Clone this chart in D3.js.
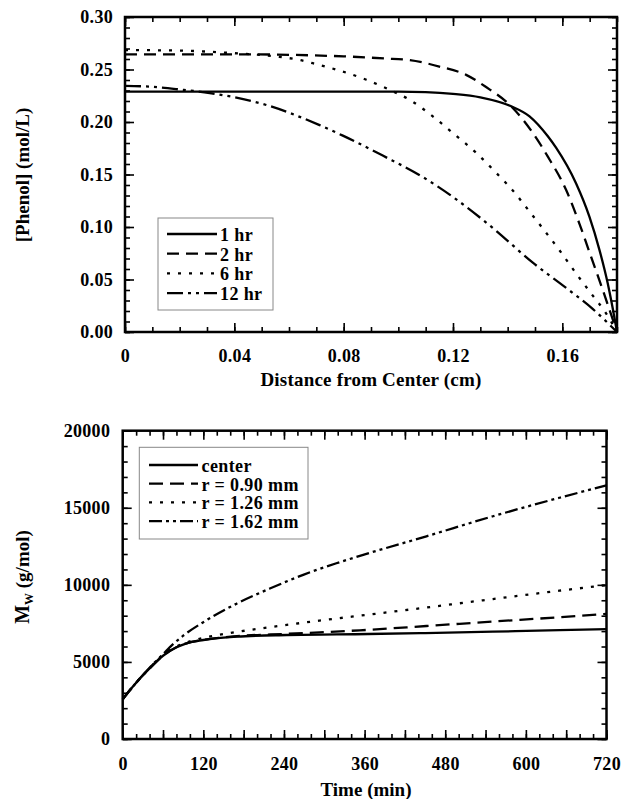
<!DOCTYPE html>
<html><head><meta charset="utf-8">
<script src="https://cdn.jsdelivr.net/npm/d3@7"></script>
<style>
body{margin:0;background:#fff}
text{font-family:"Liberation Serif","Times New Roman",serif;font-weight:bold;fill:#000}
</style>
</head><body>
<svg id="c" width="621" height="799"></svg>
<script>
// ---------- Top panel data: [Phenol] vs distance ----------
const phenolLabels = ["1 hr", "2 hr", "6 hr", "12 hr"];
const hr1X = [0, 0.04, 0.08, 0.10, 0.11, 0.12, 0.13, 0.1413, 0.148, 0.1547, 0.1577, 0.165, 0.1699, 0.1736, 0.1766, 0.179, 0.18];
const hr1Y = [0.229, 0.229, 0.229, 0.229, 0.2285, 0.2268, 0.2235, 0.215, 0.2054, 0.1864, 0.1755, 0.1416, 0.1098, 0.078, 0.0464, 0.0146, 0];
const hr2X = [0, 0.04, 0.08, 0.095, 0.1041, 0.115, 0.1248, 0.1321, 0.1413, 0.1492, 0.1547, 0.1614, 0.1662, 0.1705, 0.1748, 0.1778, 0.18];
const hr2Y = [0.2645, 0.2645, 0.2625, 0.2605, 0.259, 0.2528, 0.2449, 0.2333, 0.2149, 0.1896, 0.167, 0.1352, 0.1035, 0.0717, 0.04, 0.017, 0];
const hr6X = [0, 0.02, 0.04, 0.0555, 0.064, 0.0687, 0.0883, 0.0968, 0.1041, 0.1126, 0.1199, 0.1285, 0.1358, 0.1431, 0.1461, 0.1528, 0.1589, 0.165, 0.1705, 0.176, 0.18];
const hr6Y = [0.2685, 0.268, 0.2655, 0.2623, 0.259, 0.256, 0.2402, 0.2307, 0.2212, 0.2054, 0.1896, 0.1706, 0.1516, 0.131, 0.121, 0.0988, 0.078, 0.0559, 0.0368, 0.0178, 0];
const hr12X = [0, 0.01, 0.02, 0.031, 0.0517, 0.0712, 0.0797, 0.0943, 0.109, 0.1212, 0.1346, 0.1492, 0.1614, 0.1711, 0.18];
const hr12Y = [0.2345, 0.2335, 0.231, 0.2276, 0.2162, 0.197, 0.187, 0.168, 0.1475, 0.1263, 0.099, 0.066, 0.042, 0.022, 0];
const distTicks = [0, 0.04, 0.08, 0.12, 0.16];
const phenolTicks = [0, 0.05, 0.10, 0.15, 0.20, 0.25, 0.30];

// ---------- Bottom panel data: Mw vs time ----------
const mwLabels = ["center", "r = 0.90 mm", "r = 1.26 mm", "r = 1.62 mm"];
const centerT = [0, 10, 20, 30, 40, 60, 80, 95, 120, 170, 244, 365, 450, 551, 650, 720];
const centerV = [2584, 3130, 3650, 4130, 4580, 5400, 5950, 6208, 6422, 6640, 6746, 6811, 6870, 6960, 7060, 7130];
const r090T = [0, 10, 20, 30, 40, 60, 80, 95, 120, 170, 244, 293, 353, 452, 551, 650, 720];
const r090V = [2584, 3130, 3650, 4130, 4580, 5400, 5950, 6208, 6430, 6670, 6820, 6920, 7050, 7330, 7620, 7900, 8120];
const r126T = [0, 10, 20, 30, 40, 60, 80, 100, 120, 145, 219, 293, 353, 452, 551, 650, 720];
const r126V = [2584, 3130, 3650, 4130, 4600, 5450, 6000, 6330, 6560, 6770, 7250, 7680, 8000, 8530, 9080, 9620, 9980];
const r162T = [0, 10, 20, 30, 40, 60, 75, 90, 120, 169.5, 219, 268.6, 318, 353, 452, 551, 650, 720];
const r162V = [2584, 3130, 3650, 4140, 4620, 5500, 6150, 6700, 7580, 8780, 9760, 10650, 11400, 11880, 13150, 14450, 15650, 16450];
const timeTicks = [0, 120, 240, 360, 480, 600, 720];
const mwTicks = [0, 5000, 10000, 15000, 20000];

const svg = d3.select("#c");

function panel(o) {
  const x = d3.scaleLinear().domain(o.xDomain).range([o.x0, o.x1]);
  const y = d3.scaleLinear().domain(o.yDomain).range([o.y1, o.y0]);
  const g = svg.append("g");
  const W = o.x1 - o.x0, H = o.y1 - o.y0;

  function ax(gen, tr) {
    const a = g.append("g").attr("transform", tr).call(gen);
    a.select(".domain").remove();
    a.selectAll("line").attr("stroke", "#000").attr("stroke-width", 1.6);
    a.selectAll("text").style("font-size", o.tickFont + "px").attr("font-family", null)
      .attr("fill", "#000").style("letter-spacing", "0.3px");
    return a;
  }
  ax(d3.axisBottom(x).tickValues(o.xMinor).tickSize(-5).tickFormat(""), `translate(0,${o.y1})`);
  ax(d3.axisTop(x).tickValues(o.xMinor).tickSize(-5).tickFormat(""), `translate(0,${o.y0})`);
  ax(d3.axisLeft(y).tickValues(o.yMinor).tickSize(-5).tickFormat(""), `translate(${o.x0},0)`);
  ax(d3.axisRight(y).tickValues(o.yMinor).tickSize(-5).tickFormat(""), `translate(${o.x1},0)`);
  ax(d3.axisBottom(x).tickValues(o.xMajor).tickSize(-9).tickPadding(o.xPad).tickFormat(o.xFmt), `translate(0,${o.y1})`);
  ax(d3.axisTop(x).tickValues(o.xMajor).tickSize(-9).tickFormat(""), `translate(0,${o.y0})`);
  ax(d3.axisLeft(y).tickValues(o.yMajor).tickSize(-9).tickPadding(o.yPad).tickFormat(o.yFmt), `translate(${o.x0},0)`);
  ax(d3.axisRight(y).tickValues(o.yMajor).tickSize(-9).tickFormat(""), `translate(${o.x1},0)`);

  const line = d3.line().x(d => x(d[0])).y(d => y(d[1])).curve(d3.curveMonotoneX);
  o.series.forEach(s => {
    const pts = s.xs.map((v, i) => [v, s.ys[i]]);
    g.append("path").attr("d", line(pts)).attr("fill", "none").attr("stroke", "#000")
      .attr("stroke-width", 2.3).attr("stroke-dasharray", s.dash);
  });

  g.append("rect").attr("x", o.x0).attr("y", o.y0).attr("width", W).attr("height", H)
    .attr("fill", "none").attr("stroke", "#000").attr("stroke-width", 2.5);

  const L = o.legend;
  g.append("rect").attr("x", L.x).attr("y", L.y).attr("width", L.w).attr("height", L.h)
    .attr("fill", "#fff").attr("stroke", "#888").attr("stroke-width", 1);
  o.series.forEach((s, i) => {
    const ly = L.first + i * L.step;
    g.append("line").attr("x1", L.sx0).attr("x2", L.sx1).attr("y1", ly).attr("y2", ly)
      .attr("stroke", "#000").attr("stroke-width", 2.3).attr("stroke-dasharray", s.dash);
    g.append("text").attr("x", L.tx).attr("y", ly + 7).style("font-size", L.font + "px")
      .style("letter-spacing", "0.4px").text(s.label);
  });
  return {x, y, g};
}

// ---------- Top panel ----------
panel({
  x0: 125, x1: 617, y0: 17, y1: 332,
  xDomain: [0, 0.18], yDomain: [0, 0.30],
  xMajor: distTicks, xMinor: d3.range(0, 0.1801, 0.01).map(v => +v.toFixed(2)),
  yMajor: phenolTicks, yMinor: d3.range(0, 0.3001, 0.01).map(v => +v.toFixed(2)),
  xFmt: d => d === 0 ? "0" : d3.format(".2f")(d), yFmt: d3.format(".2f"),
  xPad: 17, yPad: 12, tickFont: 18,
  series: [
    {xs: hr1X, ys: hr1Y, dash: null, label: phenolLabels[0]},
    {xs: hr2X, ys: hr2Y, dash: "12,7", label: phenolLabels[1]},
    {xs: hr6X, ys: hr6Y, dash: "3,8", label: phenolLabels[2]},
    {xs: hr12X, ys: hr12Y, dash: "16,5,3,5,3,5", label: phenolLabels[3]}
  ],
  legend: {x: 158, y: 218, w: 115, h: 92, sx0: 167, sx1: 217, tx: 220, first: 234, step: 19.7, font: 18}
});
svg.append("text").attr("transform", "translate(29,175) rotate(-90)").attr("text-anchor", "middle")
  .style("font-size", "19px").text("[Phenol] (mol/L)");
svg.append("text").attr("x", 371).attr("y", 385.5).attr("text-anchor", "middle")
  .style("font-size", "19px").style("letter-spacing", "0.2px").text("Distance from Center (cm)");

// ---------- Bottom panel ----------
panel({
  x0: 122.7, x1: 606.5, y0: 430.7, y1: 739,
  xDomain: [0, 720], yDomain: [0, 20000],
  xMajor: d3.range(0, 721, 60), xMinor: d3.range(0, 721, 20),
  yMajor: mwTicks, yMinor: d3.range(0, 20001, 1000),
  xFmt: d => timeTicks.includes(d) ? String(d) : "", yFmt: d => String(d),
  xPad: 18, yPad: 12.5, tickFont: 18,
  series: [
    {xs: centerT, ys: centerV, dash: null, label: mwLabels[0]},
    {xs: r090T, ys: r090V, dash: "14,7", label: mwLabels[1]},
    {xs: r126T, ys: r126V, dash: "3,8", label: mwLabels[2]},
    {xs: r162T, ys: r162V, dash: "13,4,3,4,3,4", label: mwLabels[3]}
  ],
  legend: {x: 139.3, y: 447.3, w: 168.7, h: 91.7, sx0: 149, sx1: 198, tx: 201.5, first: 465, step: 18.7, font: 18}
});
const mwLab = svg.append("text").attr("transform", "translate(29,577) rotate(-90)").attr("text-anchor", "middle")
  .style("font-size", "19px");
mwLab.append("tspan").style("font-size", "20px").text("M");
mwLab.append("tspan").style("font-size", "12px").attr("dy", 4).text("W");
mwLab.append("tspan").attr("dy", -4).text(" (g/mol)");
svg.append("text").attr("x", 366).attr("y", 796).attr("text-anchor", "middle")
  .style("font-size", "19px").text("Time (min)");
</script>
</body></html>
